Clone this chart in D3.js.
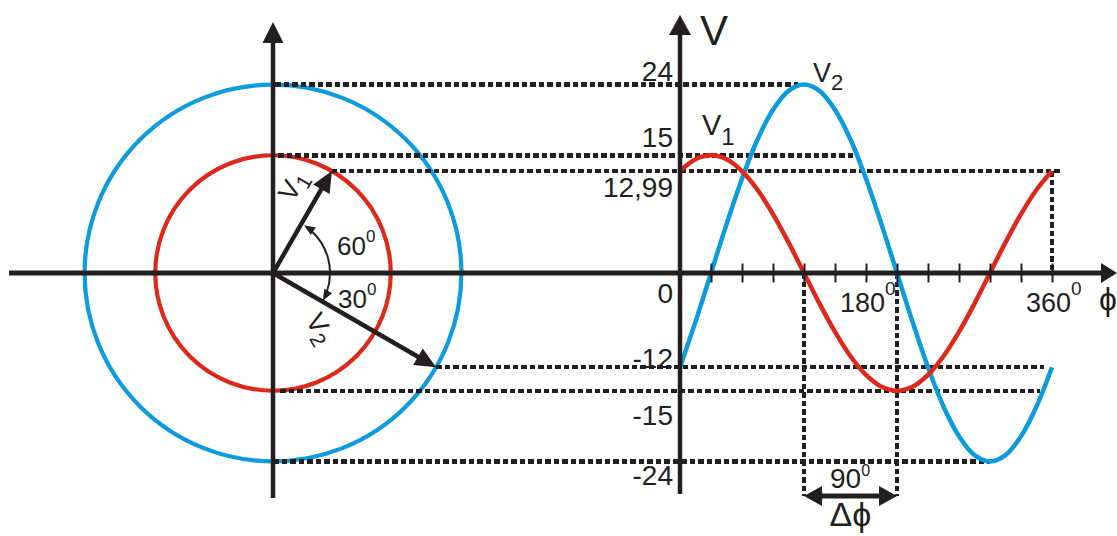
<!DOCTYPE html>
<html>
<head>
<meta charset="utf-8">
<script src="https://cdn.jsdelivr.net/npm/d3@7"></script>
<style>
  body { margin: 0; background: #fff; }
  svg { display: block; }
  text { font-family: "Liberation Sans", Arial, Helvetica, sans-serif; fill: #231f20; }
</style>
</head>
<body>
<svg id="chart" width="1117" height="536"></svg>
<script>
// Phasors: peak amplitude (V) and phase angle (degrees)
const phasorNames = ["V1", "V2"];
const phasorAmplitudes = [15, 24];
const phasorAngles = [60, -30];

// Waveforms sampled every 15 degrees over one period
const angleSamples = [0, 15, 30, 45, 60, 75, 90, 105, 120, 135, 150, 165, 180,
                      195, 210, 225, 240, 255, 270, 285, 300, 315, 330, 345, 360];
const v1Values = [12.99, 14.5, 15, 14.5, 12.99, 10.6, 7.5, 3.9, 0, -3.9, -7.5, -10.6, -12.99,
                  -14.5, -15, -14.5, -12.99, -10.6, -7.5, -3.9, 0, 3.9, 7.5, 10.6, 12.99];
const v2Values = [-12, -6.2, 0, 6.2, 12, 17, 20.8, 23.2, 24, 23.2, 20.8, 17, 12,
                  6.2, 0, -6.2, -12, -17, -20.8, -23.2, -24, -23.2, -20.8, -17, -12];

// Axis ticks and labels
const yTickValues = [24, 15, 12.99, 0, -12, -15, -24];
const yTickLabels = ["24", "15", "12,99", "0", "-12", "-15", "-24"];
const xTickValues = [30, 60, 90, 120, 150, 180, 210, 240, 270, 300, 330, 360];
const xLabelValues = [180, 360];
const phaseShift = 90;

const INK = "#231f20", RED = "#dc291c", BLUE = "#0b9bde";
const svg = d3.select("#chart");

// Scales shared by the phasor diagram (radius) and the waveform plot (height)
const y = d3.scaleLinear().domain([-24, 24]).range([461.4, 84.6]);
const x = d3.scaleLinear().domain([0, 360]).range([680, 1052]);
const r = d3.scaleLinear().domain([0, 24]).range([0, y(0) - y(24)]);
const cx = 273, cy = y(0);
const rad = d => d * Math.PI / 180;

// Phasor tips in screen coordinates
const tips = phasorAmplitudes.map((a, i) => ({
  x: cx + r(a) * Math.cos(rad(phasorAngles[i])),
  y: cy - r(a) * Math.sin(rad(phasorAngles[i]))
}));

function head(g, tx, ty, ang, len, wid) {
  const bx = tx - len * Math.cos(ang), by = ty - len * Math.sin(ang);
  const px = -Math.sin(ang) * wid / 2, py = Math.cos(ang) * wid / 2;
  g.append("path")
    .attr("d", `M${tx},${ty}L${bx + px},${by + py}L${bx - px},${by - py}Z`)
    .attr("fill", INK);
}

// Circles traced by the phasors
const circles = svg.append("g").attr("fill", "none").attr("stroke-width", 4.2);
phasorAmplitudes.forEach((a, i) => {
  circles.append("circle").attr("cx", cx).attr("cy", cy).attr("r", r(a))
    .attr("stroke", i === 0 ? RED : BLUE);
});

// Dotted projection lines
const guides = svg.append("g").attr("stroke", INK).attr("stroke-width", 4.5)
  .attr("stroke-dasharray", "5.5,3").attr("fill", "none")
  .attr("shape-rendering", "crispEdges");
const hGuides = [
  { v: 24, x1: cx + 2, x2: x(114) },
  { v: 15, x1: cx + 5, x2: x(171) },
  { v: v1Values[0], x1: tips[0].x, x2: x(370) },
  { v: v2Values[0], x1: tips[1].x, x2: x(352) },
  { v: -15, x1: cx + 7, x2: x(348) },
  { v: -24, x1: cx, x2: x(300) }
];
hGuides.forEach(d => {
  guides.append("line").attr("x1", d.x1).attr("x2", d.x2)
    .attr("y1", y(d.v)).attr("y2", y(d.v));
});
guides.append("line").attr("x1", x(360)).attr("x2", x(360))
  .attr("y1", y(v1Values[0])).attr("y2", y(0));
const shiftY = 496;
[120, 120 + phaseShift].forEach(a => {
  guides.append("line").attr("x1", x(a)).attr("x2", x(a))
    .attr("y1", y(0)).attr("y2", shiftY);
});

// Waveforms
const line = d3.line().x((d, i) => x(angleSamples[i])).y(d => y(d)).curve(d3.curveCatmullRom);
svg.append("path").attr("d", line(v2Values)).attr("fill", "none")
  .attr("stroke", BLUE).attr("stroke-width", 4.5);
svg.append("path").attr("d", line(v1Values)).attr("fill", "none")
  .attr("stroke", RED).attr("stroke-width", 4.5);

// Axes
const axes = svg.append("g");
axes.append("line").attr("x1", 9).attr("x2", 1103).attr("y1", cy).attr("y2", cy)
  .attr("stroke", INK).attr("stroke-width", 5);
head(axes, 1117, cy, 0, 16, 20);
axes.append("line").attr("x1", cx).attr("x2", cx).attr("y1", 498).attr("y2", 40)
  .attr("stroke", INK).attr("stroke-width", 4.5);
head(axes, cx, 22, -Math.PI / 2, 21, 21);
axes.append("line").attr("x1", x(0)).attr("x2", x(0)).attr("y1", 494).attr("y2", 32)
  .attr("stroke", INK).attr("stroke-width", 4.5);
head(axes, x(0), 15, -Math.PI / 2, 20, 22);

const xAxis = svg.append("g").attr("transform", `translate(0,${cy - 9.5})`)
  .call(d3.axisBottom(x).tickValues(xTickValues).tickSize(19).tickFormat(""));
xAxis.select(".domain").remove();
xAxis.selectAll(".tick line").attr("stroke", INK).attr("stroke-width", 2);

// Phasor arrows
phasorAngles.forEach((ang, i) => {
  const t = tips[i];
  const dir = Math.atan2(t.y - cy, t.x - cx);
  const len = 21;
  svg.append("line").attr("x1", cx).attr("y1", cy)
    .attr("x2", t.x - (len - 2) * Math.cos(dir)).attr("y2", t.y - (len - 2) * Math.sin(dir))
    .attr("stroke", INK).attr("stroke-width", 4.5);
  head(svg, t.x, t.y, dir, len, 19);
});

// Angle arc between the phasors, arrowheads at both ends
const arcR = 57;
const aTop = -rad(phasorAngles[0] - 3), aBot = -rad(phasorAngles[1] + 1);
const arcPath = d3.path();
arcPath.arc(cx, cy, arcR, aTop + rad(9), aBot - rad(9), false);
svg.append("path").attr("d", arcPath.toString()).attr("fill", "none")
  .attr("stroke", INK).attr("stroke-width", 2);
head(svg, cx + arcR * Math.cos(aTop), cy + arcR * Math.sin(aTop),
     Math.atan2(-Math.cos(aTop), Math.sin(aTop)), 11, 9);
head(svg, cx + arcR * Math.cos(aBot), cy + arcR * Math.sin(aBot),
     Math.atan2(Math.cos(aBot), -Math.sin(aBot)), 11, 9);

// Phase shift arrow
const sx1 = x(120), sx2 = x(120 + phaseShift);
svg.append("line").attr("x1", sx1 + 16).attr("x2", sx2 - 16).attr("y1", shiftY).attr("y2", shiftY)
  .attr("stroke", INK).attr("stroke-width", 5);
head(svg, sx1, shiftY, Math.PI, 18, 20);
head(svg, sx2, shiftY, 0, 18, 20);

// Text helpers
function degLabel(tx, ty, value, size, supSize, supDy) {
  const t = svg.append("text").attr("x", tx).attr("y", ty).attr("font-size", size);
  t.append("tspan").text(value);
  t.append("tspan").attr("font-size", supSize).attr("dy", supDy).text("0");
  return t;
}
function subLabel(g, name, size, subSize, subDy) {
  const t = g.append("text").attr("font-size", size);
  t.append("tspan").text(name[0]);
  t.append("tspan").attr("font-size", subSize).attr("dy", subDy).text(name.slice(1));
  return t;
}

// Y tick labels
const yLabelOffset = { "24": -4, "15": -8, "12.99": 26, "0": 30, "-12": 1, "-15": 34, "-24": 24 };
yTickValues.forEach((v, i) => {
  svg.append("text").attr("x", 673).attr("y", y(v) + yLabelOffset[String(v)])
    .attr("text-anchor", "end").attr("font-size", 28).text(yTickLabels[i]);
});

// X tick labels
xLabelValues.forEach(v => degLabel(x(v) - 26, 312, v, 27, 19, -17));

// Axis names
svg.append("text").attr("x", 700).attr("y", 45).attr("font-size", 42).text("V");
svg.append("text").attr("x", 1099).attr("y", 310).attr("font-size", 32).text("\u03D5");

// Curve labels
subLabel(svg, phasorNames[0], 29, 24, 10).attr("transform", "translate(702,135)");
subLabel(svg, phasorNames[1], 27, 22, 8).attr("transform", "translate(813,82)");

// Phasor labels, rotated
subLabel(svg, phasorNames[0], 27, 21, 6).attr("transform", "translate(293,203) rotate(-60)");
subLabel(svg, phasorNames[1], 27, 21, 6).attr("transform", "translate(305,320) rotate(60)");

// Angle labels
degLabel(337, 255, phasorAngles[0], 26, 17, -13);
degLabel(338, 308, Math.abs(phasorAngles[1]), 26, 17, -13);

// Phase shift labels
degLabel(830, 488, phaseShift, 28, 16, -12);
svg.append("text").attr("x", (sx1 + sx2) / 2).attr("y", 526).attr("text-anchor", "middle")
  .attr("font-size", 34).text("\u0394\u03D5");
</script>
</body>
</html>
